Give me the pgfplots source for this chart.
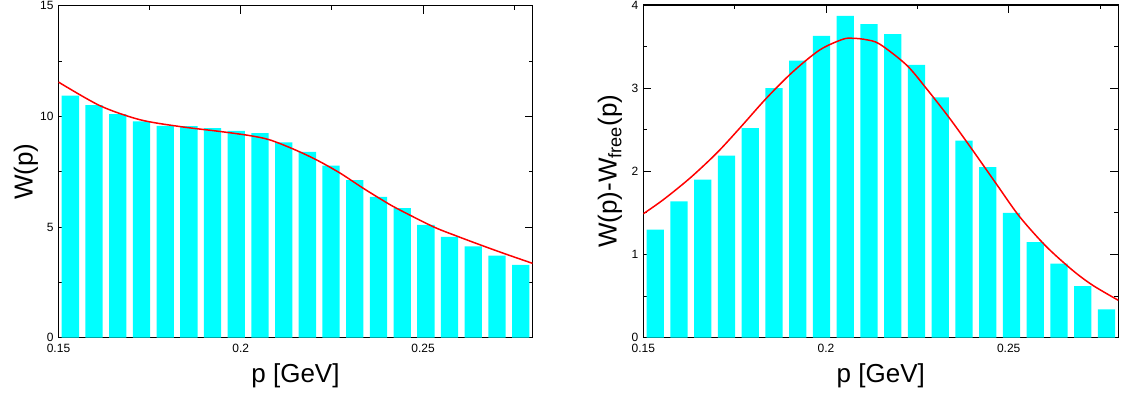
\documentclass[border=0pt]{standalone}
\usepackage{pgfplots}
\pgfplotsset{compat=1.18}
\usepackage{fontspec}
\setmainfont{Liberation Sans}
\definecolor{barcyan}{RGB}{0,255,255}
\definecolor{curvered}{RGB}{255,0,0}

\pgfplotsset{
  mystyle/.style={
    scale only axis,
    width=474pt, height=332pt,
    xmin=0.15, xmax=0.28,
    xtick={0.15,0.2,0.25},
    xticklabels={0.15,0.2,0.25},
    minor xtick={0.175,0.225,0.275},
    axis line style={line width=1.1pt},
    every tick/.style={black, line width=1pt},
    major tick length=8pt,
    minor tick length=4pt,
    tick align=inside,
    xtick pos=both, ytick pos=both,
    ticklabel style={font=\fontsize{12}{14}\selectfont},
    xticklabel style={yshift=-2.5pt},
    yticklabel style={xshift=-1.5pt},
    every axis x label/.style={at={(axis description cs:0.5,0)}, anchor=base, yshift=-45pt, font=\fontsize{26}{30}\selectfont},
    clip=true,
  }
}

\begin{document}
\begin{tikzpicture}
\useasboundingbox (0,0) rectangle (1123pt,392pt);

\begin{axis}[mystyle,
  at={(58.5pt,54.3pt)}, anchor=south west,
  ymin=0, ymax=15,
  ytick={0,5,10,15}, yticklabels={0,5,10,15},
  minor ytick={2.5,7.5,12.5},
  every axis y label/.style={at={(axis description cs:-0.0548,0.5)}, rotate=90, anchor=base, font=\fontsize{26}{30}\selectfont},
  xlabel={p [GeV]}, ylabel={W(p)},
]
\addplot[ybar, bar width=17.3pt, fill=barcyan, draw=none] coordinates {
(0.15325,10.94) (0.15975,10.51) (0.16625,10.10) (0.17275,9.77) (0.17925,9.57)
(0.18575,9.56) (0.19225,9.47) (0.19875,9.35) (0.20525,9.24) (0.21175,8.82)
(0.21825,8.40) (0.22475,7.78) (0.23125,7.12) (0.23775,6.36) (0.24425,5.85)
(0.25075,5.10) (0.25725,4.55) (0.26375,4.13) (0.27025,3.71) (0.27675,3.29)
};
\addplot[curvered, line width=1.5pt, smooth] coordinates {
(0.1500,11.55) (0.1614,10.48) (0.1723,9.85) (0.1833,9.54) (0.1942,9.32)
(0.2025,9.13) (0.2079,8.94) (0.2143,8.53) (0.2207,8.04) (0.2272,7.44)
(0.2335,6.76) (0.2390,6.20) (0.2427,5.85) (0.2527,5.02) (0.2591,4.60)
(0.2664,4.15) (0.2728,3.77) (0.2800,3.36)
};
\end{axis}

\begin{axis}[mystyle,
  at={(643.3pt,54.3pt)}, anchor=south west,
  width=475pt, height=332.7pt,
  ymin=0, ymax=4,
  ytick={0,1,2,3,4}, yticklabels={0,1,2,3,4},
  minor ytick={0.5,1.5,2.5,3.5},
  every axis y label/.style={at={(axis description cs:-0.056,0.5)}, rotate=90, anchor=base, font=\fontsize{26}{30}\selectfont},
  xlabel={p [GeV]}, ylabel={W(p)-W\textsubscript{free}(p)},
]
\addplot[ybar, bar width=17.3pt, fill=barcyan, draw=none] coordinates {
(0.15325,1.30) (0.15975,1.64) (0.16625,1.90) (0.17275,2.19) (0.17925,2.52)
(0.18575,3.00) (0.19225,3.33) (0.19875,3.63) (0.20525,3.87) (0.21175,3.77)
(0.21825,3.65) (0.22475,3.28) (0.23125,2.89) (0.23775,2.37) (0.24425,2.05)
(0.25075,1.50) (0.25725,1.15) (0.26375,0.89) (0.27025,0.62) (0.27675,0.34)
};
\addplot[curvered, line width=1.5pt, smooth] coordinates {
(0.1500,1.49) (0.1555,1.66) (0.1628,1.92) (0.1701,2.22) (0.1764,2.52)
(0.1837,2.88) (0.1910,3.20) (0.1983,3.46) (0.2046,3.588) (0.2074,3.60)
(0.2110,3.583) (0.2147,3.53) (0.2220,3.28) (0.2274,3.00) (0.2338,2.64)
(0.2402,2.25) (0.2466,1.85) (0.2529,1.46) (0.2602,1.10) (0.2675,0.81)
(0.2730,0.63) (0.2800,0.45)
};
\end{axis}
\end{tikzpicture}
\end{document}
